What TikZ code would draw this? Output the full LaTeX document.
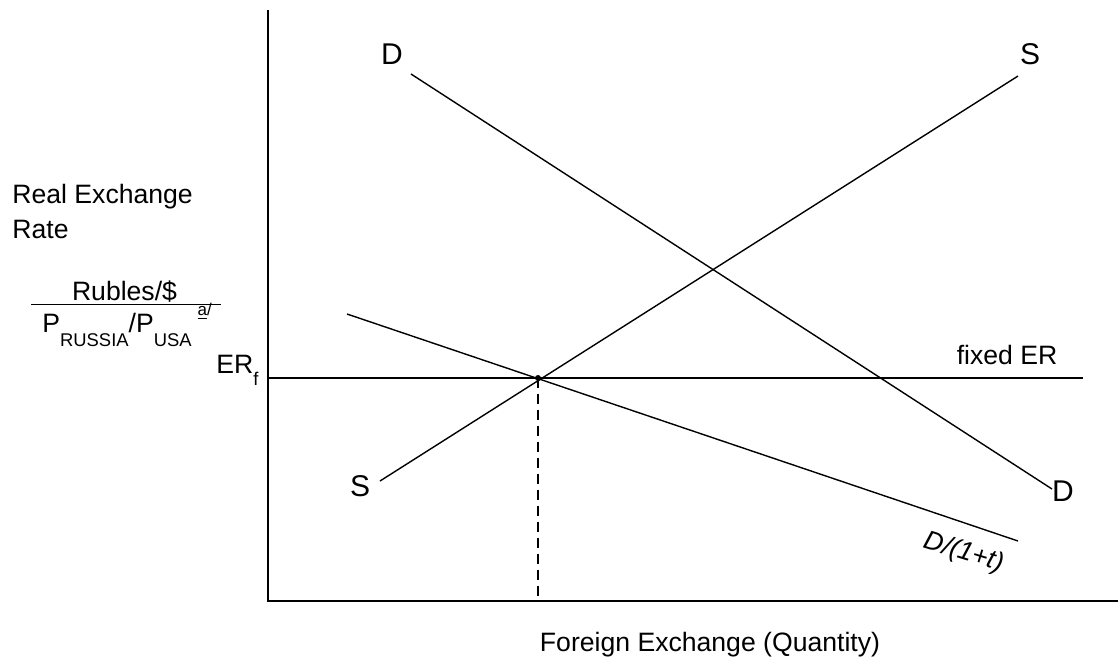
\documentclass[tikz,border=0pt]{standalone}
\usepackage{fontspec}
\setmainfont{Liberation Sans}
\newcommand\lowsub[2]{\raisebox{-#1}{\fontsize{9.2}{10}\selectfont #2}}
\tikzset{
  axis/.style={line width=1pt},
  curve/.style={line width=.7pt},
  lbl/.style={inner sep=0pt},
  big/.style={lbl,font=\fontsize{15}{18}\selectfont},
}
\begin{document}
\begin{tikzpicture}[x=.5pt,y=-.5pt,font=\fontsize{13.3}{16}\selectfont]
	\useasboundingbox (0,0) rectangle (1118,661);
	\def\ERy{378}%固定汇率
	\def\Qx{538}%均衡数量
	% 坐标轴
	\coordinate (O) at (268,601);
	\coordinate (ytop) at (268,10);
	\coordinate (xend) at (1118,601);
	\draw[axis] (ytop)--(O)--(xend);
	% 曲线端点
	\coordinate (Dtop) at (411,74);
	\coordinate (Dbot) at (1052,489);
	\coordinate (Sbot) at (380,481);
	\coordinate (Stop) at (1018,76);
	\coordinate (Ttop) at (347,314);
	\coordinate (Tbot) at (1018,541);
	\coordinate (ERl) at (268,\ERy);
	\coordinate (ERr) at (1083,\ERy);
	\coordinate (E) at (\Qx,\ERy);
	\coordinate (Eq) at (\Qx,601);
	\draw[curve] (Dtop)--(Dbot);
	\draw[curve] (Sbot)--(Stop);
	\draw[curve] (Ttop)--(Tbot);
	\draw[axis] (ERl)--(ERr);
	\draw[curve,dash pattern=on 5pt off 3pt] (E)--(Eq);
	\fill (E) circle (3);
	% 标注
	\node[big] (lDt) at (392,54) {D};
	\node[big] (lSt) at (1030,54) {S};
	\node[big] (lSb) at (360,486) {S};
	\node[big] (lDb) at (1063,491) {D};
	\node[lbl] (lfix) at (1007,355) {fixed ER};
	\node[lbl,anchor=base west] (lERf) at (216,373) {ER\lowsub{6pt}{f}};
	\node[lbl,rotate=-17,font=\fontsize{13.3}{16}\selectfont\itshape] (lT) at (964,553) {D/(1+t)};
	\node[lbl,anchor=west] (ylab1) at (12,197) {Real Exchange};
	\node[lbl,anchor=west] (ylab2) at (12,229) {Rate};
	\node[lbl,anchor=base] (unit) at (126,300) {\underline{\hspace{20.5pt}Rubles/\$\hspace{22pt}}};
	\node[lbl,anchor=base west] (price) at (42,332) {P\lowsub{7pt}{RUSSIA}/P\lowsub{7pt}{USA}\hspace{3pt}\raisebox{8.5pt}{\fontsize{8.5}{9}\selectfont\underline{a}/}};
	\node[lbl] (xlab) at (710,645) {Foreign Exchange (Quantity)};
\end{tikzpicture}
\end{document}
